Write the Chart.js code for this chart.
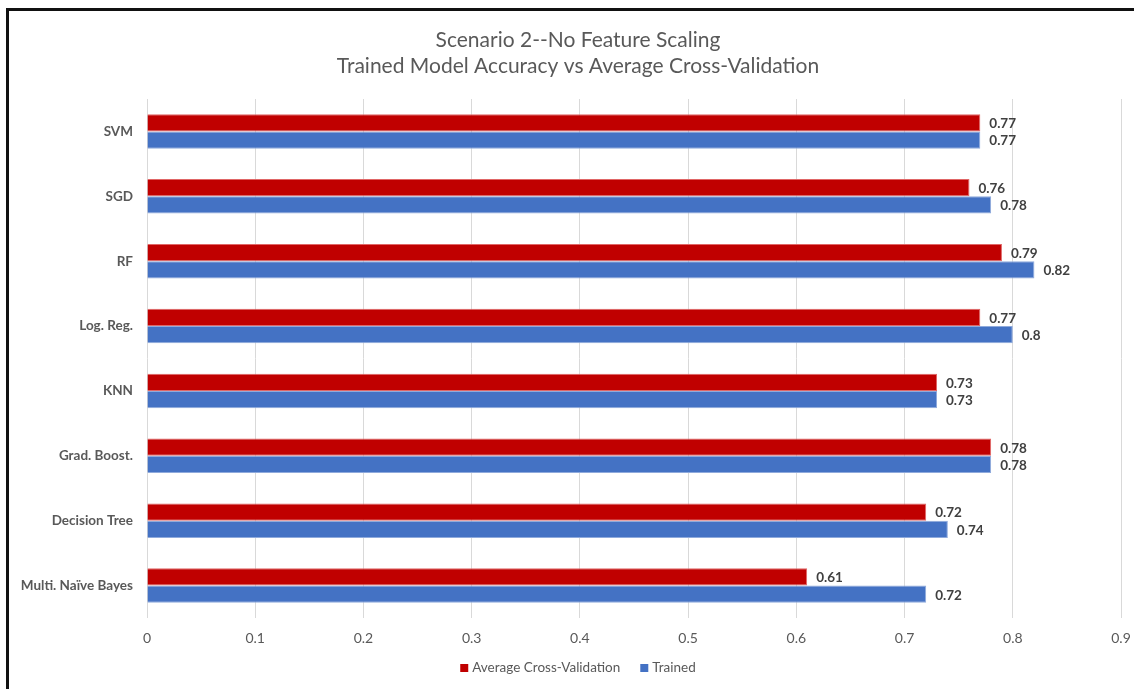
<!DOCTYPE html>
<html>
<head>
<meta charset="utf-8">
<script src="https://cdn.jsdelivr.net/npm/chart.js@4.4.1/dist/chart.umd.min.js"></script>
<style>
  html, body { margin: 0; padding: 0; background: #fff; overflow: hidden; }
  #wrap { position: relative; width: 1134px; height: 689px; }
  #frame { position: absolute; left: 6px; top: 8px; width: 1200px; height: 800px;
           border-left: 3px solid #111; border-top: 3px solid #111; pointer-events: none; }
  canvas { position: absolute; left: 0; top: 0; }
</style>
</head>
<body>
<div id="wrap">
  <canvas id="chart" width="1134" height="689"></canvas>
  <div id="frame"></div>
</div>
<script>
// Models compared, listed top to bottom
const models = ['SVM', 'SGD', 'RF', 'Log. Reg.', 'KNN', 'Grad. Boost.', 'Decision Tree', 'Multi. Naïve Bayes'];
// Mean accuracy across the cross-validation folds
const crossValidation = [0.77, 0.76, 0.79, 0.77, 0.73, 0.78, 0.72, 0.61];
// Accuracy of the trained model
const trained = [0.77, 0.78, 0.82, 0.8, 0.73, 0.78, 0.74, 0.72];
// Axis ticks
const xTicks = [0, 0.1, 0.2, 0.3, 0.4, 0.5, 0.6, 0.7, 0.8, 0.9];
const titleLines = ['Scenario 2--No Feature Scaling', 'Trained Model Accuracy vs Average Cross-Validation'];

const FONT = 'Lato, "Liberation Sans", sans-serif';
const GREY = '#595959';
const CENTER_X = 578; // horizontal centre of the framed chart

// Two-line title above the plot
const titleBlock = {
  id: 'titleBlock',
  afterDraw(chart) {
    const ctx = chart.ctx;
    ctx.save();
    ctx.font = '21px ' + FONT;
    ctx.fillStyle = GREY;
    ctx.textAlign = 'center';
    ctx.textBaseline = 'middle';
    titleLines.forEach((line, i) => ctx.fillText(line, CENTER_X, 40 + i * 26));
    ctx.restore();
  }
};

// Legend row under the axis
const legendRow = {
  id: 'legendRow',
  afterDraw(chart) {
    const ctx = chart.ctx;
    ctx.save();
    ctx.font = '13.5px ' + FONT;
    ctx.textBaseline = 'middle';
    ctx.textAlign = 'left';
    const box = 8, gap = 4, between = 20, y = 668;
    const items = chart.data.datasets.map(ds => ({ text: ds.label, color: ds.backgroundColor,
                                                   w: box + gap + ctx.measureText(ds.label).width }));
    const total = items.reduce((s, it) => s + it.w, 0) + between * (items.length - 1);
    let x = CENTER_X - total / 2;
    items.forEach(it => {
      ctx.fillStyle = it.color;
      ctx.fillRect(x, y - box / 2, box, box);
      ctx.fillStyle = GREY;
      ctx.fillText(it.text, x + box + gap, y);
      x += it.w + between;
    });
    ctx.restore();
  }
};

// Writes each bar's value just past its end
const valueLabels = {
  id: 'valueLabels',
  afterDatasetsDraw(chart) {
    const ctx = chart.ctx;
    ctx.save();
    ctx.font = 'bold 13.5px ' + FONT;
    ctx.fillStyle = '#404040';
    ctx.textBaseline = 'middle';
    ctx.textAlign = 'left';
    chart.data.datasets.forEach((ds, i) => {
      const meta = chart.getDatasetMeta(i);
      meta.data.forEach((bar, j) => {
        ctx.fillText(String(ds.data[j]), bar.x + 9, bar.y + 1);
      });
    });
    ctx.restore();
  }
};

new Chart(document.getElementById('chart'), {
  type: 'bar',
  data: {
    labels: models,
    datasets: [
      { label: 'Average Cross-Validation', data: crossValidation,
        backgroundColor: '#C00000', borderColor: '#E06666', borderWidth: 1,
        borderSkipped: 'start', categoryPercentage: 0.53, barPercentage: 1.0 },
      { label: 'Trained', data: trained,
        backgroundColor: '#4472C4', borderColor: '#8FAADC', borderWidth: 1,
        borderSkipped: 'start', categoryPercentage: 0.53, barPercentage: 1.0 }
    ]
  },
  options: {
    indexAxis: 'y',
    responsive: false,
    animation: false,
    devicePixelRatio: 1,
    layout: { padding: { left: 0, right: 13, top: 99, bottom: 0 } },
    scales: {
      x: {
        min: 0, max: 0.9,
        afterBuildTicks(scale) { scale.ticks = xTicks.map(v => ({ value: v })); },
        afterFit(scale) { scale.height = 71; scale.paddingLeft = 0; scale.paddingRight = 0; },
        ticks: { color: GREY, font: { family: FONT, size: 14 }, padding: 12,
                 callback: v => String(Math.round(v * 10) / 10) },
        grid: { color: '#D9D9D9', lineWidth: 1, drawTicks: false },
        border: { display: false }
      },
      y: {
        afterFit(scale) { scale.width = 147; },
        ticks: { color: GREY, font: { family: FONT, size: 13.5, weight: 'bold' }, padding: 6 },
        grid: { display: false },
        border: { display: false }
      }
    },
    plugins: {
      title: { display: false },
      legend: { display: false },
      tooltip: { enabled: false }
    }
  },
  plugins: [valueLabels, titleBlock, legendRow]
});
</script>
</body>
</html>
